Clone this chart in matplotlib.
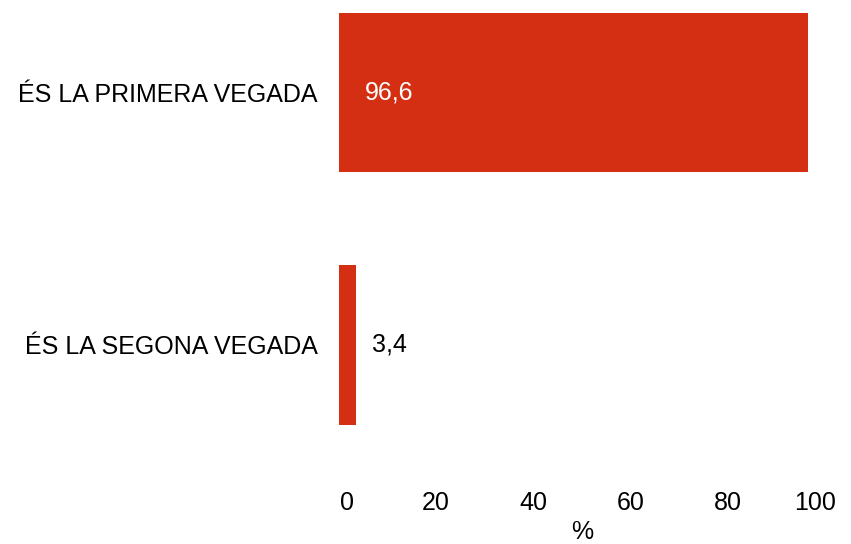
import matplotlib
matplotlib.use("Agg")
import matplotlib.pyplot as plt
from matplotlib.transforms import offset_copy, ScaledTranslation

categories = ["ÉS LA PRIMERA VEGADA", "ÉS LA SEGONA VEGADA"]
values = [96.6, 3.4]
value_labels = ["96,6", "3,4"]
xticks = [0, 20, 40, 60, 80, 100]

plt.rcParams['font.family'] = ['Liberation Sans', 'DejaVu Sans']

W, H = 851, 544
fig = plt.figure(figsize=(W / 100, H / 100), dpi=100)
left, right, top, bottom = 339, 824.5, 0, 480
ax = fig.add_axes([left / W, (H - bottom) / H, (right - left) / W, (bottom - top) / H])

color = '#d52f13'
pos = list(range(len(categories)))
ax.barh(pos, values, height=0.63, color=color)
ax.set_xlim(0, 100)
ax.set_ylim((bottom - 92.5) / 252.5, -92.5 / 252.5)
ax.set_yticks(pos)
ax.set_yticklabels(categories, fontsize=18)
ax.set_xticks(xticks)
ax.set_xticklabels([str(t) for t in xticks], fontsize=18)
ax.tick_params(axis='both', length=0)
ax.tick_params(axis='y', pad=21 * 0.72)
ax.tick_params(axis='x', pad=11 * 0.72)
for s in ax.spines.values():
    s.set_visible(False)
ax.set_xlabel('%', fontsize=18, labelpad=3.5)

tl = ax.get_xticklabels()
tl[0].set_transform(tl[0].get_transform() + ScaledTranslation(8 / 100, 0, fig.dpi_scale_trans))
tl[-1].set_transform(tl[-1].get_transform() + ScaledTranslation(-9 / 100, 0, fig.dpi_scale_trans))

for i, (v, lab) in enumerate(zip(values, value_labels)):
    if v > 50:
        tr = offset_copy(ax.transData, fig=fig, x=26 * 0.72, y=0, units='points')
        ax.text(0, i, lab, transform=tr, color='white', fontsize=18, va='center', ha='left')
    else:
        tr = offset_copy(ax.transData, fig=fig, x=16 * 0.72, y=0, units='points')
        ax.text(v, i, lab, transform=tr, color='black', fontsize=18, va='center', ha='left')

fig.savefig('out.png', dpi=100)
